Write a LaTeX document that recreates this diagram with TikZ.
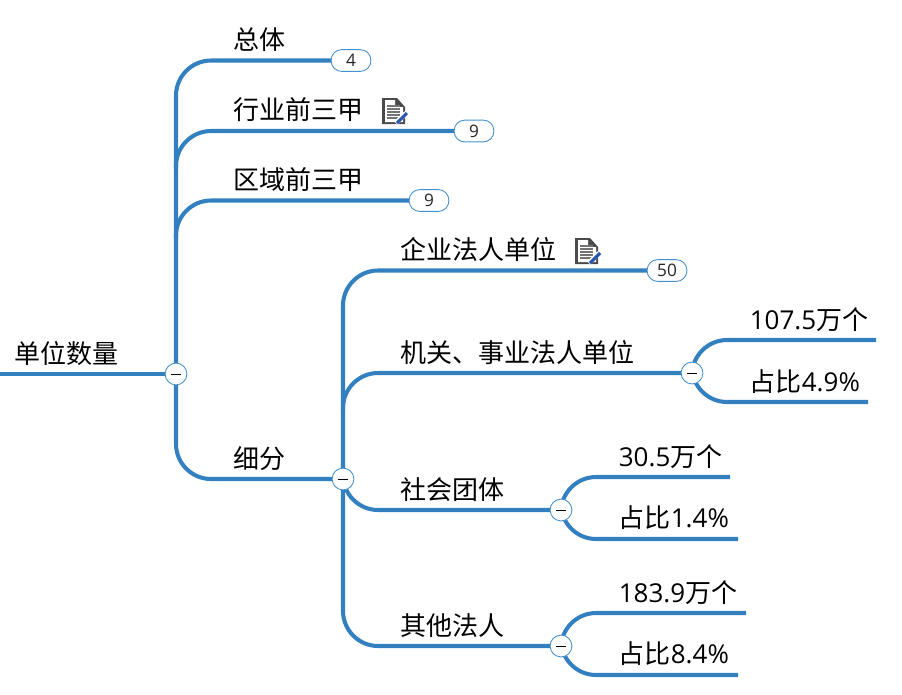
\documentclass[tikz,border=0pt]{standalone}
\usepackage{fontspec}
\usetikzlibrary{backgrounds}
\setmainfont{Open Sans}
\newfontfamily\cjk{Noto Sans CJK SC}
\definecolor{branchblue}{RGB}{50,128,192}
\definecolor{ringblue}{RGB}{70,145,205}
\definecolor{icongrey}{RGB}{75,75,75}
\definecolor{iconblue}{RGB}{40,85,175}
\tikzset{
	branch/.style={line width=2.3pt, color=branchblue},
	curved/.style={branch, rounded corners=20pt},
	topic/.style={inner sep=0pt, anchor=base west, font=\fontsize{14.8pt}{16pt}\selectfont},
	badge/.style={draw=ringblue, line width=0.5pt, fill=white, rounded corners=6pt, minimum width=22.6pt, minimum height=12.4pt, inner sep=0pt, text=black!85, font=\fontsize{9.8pt}{10pt}\selectfont},
	fold/.style={circle, draw=ringblue, line width=0.5pt, fill=white, minimum size=12.4pt, inner sep=0pt,
		execute at begin node={\rule{6pt}{0.5pt}}}
}
% icon beside a topic
\def\noteicon(#1,#2){
	\fill[icongrey] (#1,#2) -- (#1+15,#2) -- (#1+23,#2+9) -- (#1+23,#2+26) -- (#1,#2+26) -- cycle;
	\fill[white] (#1+3,#2+2) -- (#1+13,#2+2) -- (#1+13,#2+9) -- (#1+21,#2+9) -- (#1+21,#2+24) -- (#1+3,#2+24) -- cycle;
	\foreach \i in {8,11,14,17,20} \draw[black!55, line width=0.8pt] (#1+5,#2+\i) -- (#1+18,#2+\i);
	\draw[white, line width=2.8pt] (#1+14,#2+25) -- (#1+24,#2+15);
	\draw[iconblue, line width=1.8pt] (#1+15,#2+25) -- (#1+25,#2+15);
}
\begin{document}
\begin{tikzpicture}[x=0.02cm, y=-0.02cm]
	\useasboundingbox (0,0) rectangle (902,694);

	%%%%% left side %%%%%
	\coordinate (rootend) at (0,374);
	\coordinate (secondfork) at (176,168);
	\coordinate (thirdfork) at (176,238);
	\node[fold] (rootfold) at (176,374) {};
	\node[badge] (countall) at (351,60.5) {4};
	\node[badge] (counttrade) at (474,131) {9};
	\node[badge] (countarea) at (429,200.5) {9};
	\node[fold] (subfold) at (343,479) {};

	\node[topic] (rootname) at (14,363.5) {\cjk 单位数量};
	\node[topic] (allname) at (233,49) {\cjk 总体};
	\node[topic] (tradename) at (233,119.5) {\cjk 行业前三甲};
	\node[topic] (areaname) at (233,189.5) {\cjk 区域前三甲};
	\node[topic] (subname) at (233,468.5) {\cjk 细分};
	\noteicon(382,98)

	%%%%% right side %%%%%
	\coordinate (orgfork) at (343,409);
	\node[badge] (countcorp) at (667,270.5) {50};
	\node[fold] (orgfold) at (692,373) {};
	\node[fold] (socfold) at (561,510) {};
	\node[fold] (otherfold) at (561,646) {};
	\coordinate (orgtop) at (876,340);
	\coordinate (orgbot) at (868,402);
	\coordinate (soctop) at (730,477);
	\coordinate (socbot) at (738,539);
	\coordinate (othertop) at (746,613);
	\coordinate (otherbot) at (738,675);

	\node[topic] (corpname) at (400,259.5) {\cjk 企业法人单位};
	\node[topic] (orgname) at (400,362.5) {\cjk 机关、事业法人单位};
	\node[topic] (socname) at (400,499) {\cjk 社会团体};
	\node[topic] (othername) at (400,635.5) {\cjk 其他法人};
	\noteicon(575,238)

	\node[topic] (orgnum) at (749.5,329) {107.5{\cjk 万个}};
	\node[topic] (orgshare) at (749.5,391) {{\cjk 占比}4.9\%};
	\node[topic] (socnum) at (618.5,466) {30.5{\cjk 万个}};
	\node[topic] (socshare) at (618.5,527) {{\cjk 占比}1.4\%};
	\node[topic] (othernum) at (618.5,602) {183.9{\cjk 万个}};
	\node[topic] (othershare) at (618.5,663) {{\cjk 占比}8.4\%};

	%%%%% connectors %%%%%
	\begin{scope}[on background layer]
		\draw[branch] (rootend) -- (rootfold.center);
		\draw[curved] (rootfold.center) |- (countall.center);
		\draw[curved] (secondfork) |- (counttrade.center);
		\draw[curved] (thirdfork) |- (countarea.center);
		\draw[curved] (rootfold.center) |- (subfold.center);
		\draw[curved] (subfold.center) |- (countcorp.center);
		\draw[curved] (orgfork) |- (orgfold.center);
		\draw[curved] (subfold.center) |- (socfold.center);
		\draw[curved] (subfold.center) |- (otherfold.center);
		\draw[curved] (orgfold.center) |- (orgtop);
		\draw[curved] (orgfold.center) |- (orgbot);
		\draw[curved] (socfold.center) |- (soctop);
		\draw[curved] (socfold.center) |- (socbot);
		\draw[curved] (otherfold.center) |- (othertop);
		\draw[curved] (otherfold.center) |- (otherbot);
	\end{scope}
\end{tikzpicture}
\end{document}
